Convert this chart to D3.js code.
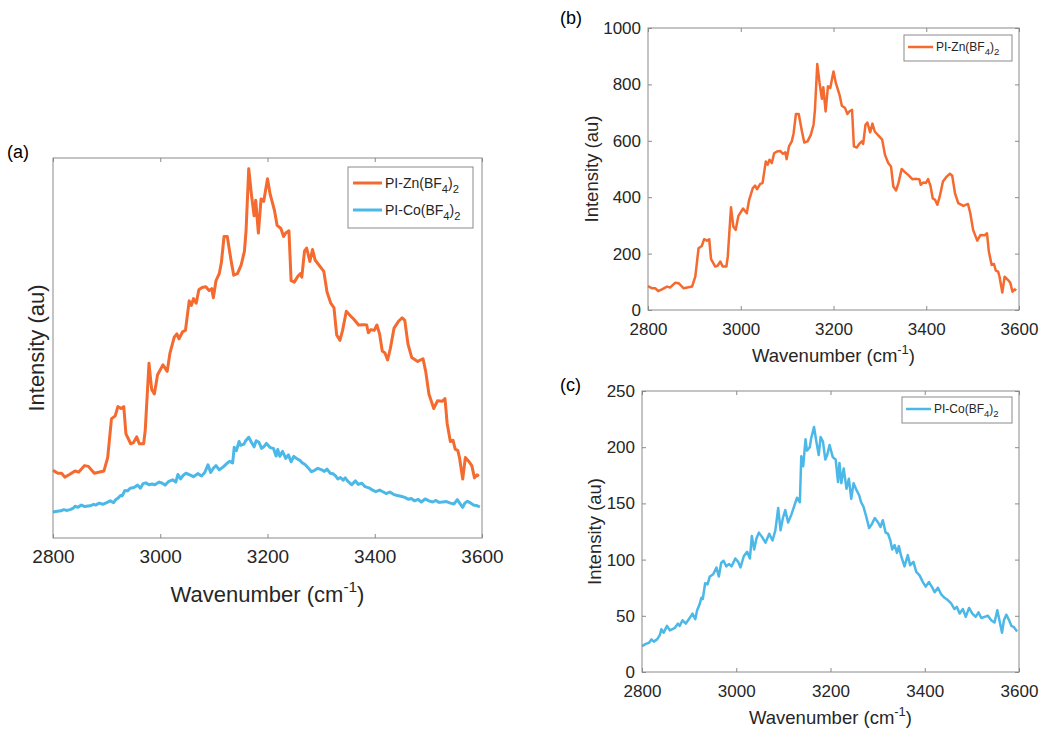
<!DOCTYPE html>
<html>
<head>
<meta charset="utf-8">
<script src="https://cdn.jsdelivr.net/npm/d3@7/dist/d3.min.js"></script>
<style>
  html, body { margin: 0; padding: 0; background: #fff; }
  svg { display: block; }
  text { font-family: "Liberation Sans", Arial, Helvetica, sans-serif; }
</style>
</head>
<body>
<svg id="chart" width="1040" height="729"></svg>
<script>
// ---------------- DATA ----------------
const xTicks = [2800, 3000, 3200, 3400, 3600];
const yTicksB = [0, 200, 400, 600, 800, 1000];
const yTicksC = [0, 50, 100, 150, 200, 250];

const znWavenumber = [2800,2809,2816,2822,2830,2841,2848,2859,2866,2877,2895,2902,2909,2916,2921,2927,2932,2936,2945,2950,2956,2961,2969,2972,2979,2984,2989,2995,3005,3013,3018,3026,3031,3035,3042,3047,3054,3058,3062,3067,3072,3078,3085,3091,3096,3099,3104,3110,3114,3119,3125,3132,3137,3144,3151,3157,3160,3165,3170,3175,3178,3183,3188,3193,3200,3205,3213,3218,3225,3230,3234,3240,3244,3250,3257,3261,3264,3269,3273,3279,3284,3289,3300,3305,3311,3318,3324,3329,3335,3340,3347,3354,3361,3370,3379,3385,3388,3393,3399,3404,3409,3414,3419,3424,3429,3436,3444,3451,3456,3462,3469,3480,3490,3495,3501,3510,3517,3526,3531,3535,3541,3546,3550,3555,3558,3564,3569,3576,3581,3586,3591,3594];
const znIntensity = [85,77,77,67,73,83,80,97,95,77,83,118,219,227,251,246,251,180,154,157,172,154,154,189,364,296,284,334,360,343,390,432,441,428,447,450,527,515,533,521,556,562,564,554,559,535,580,598,627,695,695,633,594,598,621,657,710,872,805,749,790,704,793,787,846,805,763,724,716,695,704,710,580,576,592,598,589,657,665,630,661,633,613,604,550,521,509,438,424,450,500,489,479,464,465,464,444,452,450,464,441,396,391,373,402,456,473,483,476,414,379,369,376,343,284,246,266,265,272,207,160,163,140,136,118,62,118,107,97,65,73,69];

const coWavenumber = [2800,2808,2815,2820,2825,2832,2838,2841,2846,2853,2859,2869,2876,2880,2886,2893,2901,2907,2913,2917,2922,2926,2929,2934,2939,2944,2951,2958,2963,2968,2973,2979,2985,2990,2998,3004,3009,3016,3023,3029,3033,3038,3043,3048,3055,3062,3070,3077,3083,3089,3094,3099,3104,3110,3117,3124,3129,3135,3138,3142,3147,3150,3156,3159,3165,3170,3175,3179,3184,3189,3193,3198,3205,3211,3216,3219,3223,3228,3234,3239,3244,3249,3255,3261,3265,3270,3276,3282,3287,3294,3301,3306,3311,3317,3322,3327,3331,3336,3341,3345,3350,3357,3364,3369,3376,3382,3389,3396,3402,3409,3416,3421,3428,3435,3442,3449,3456,3463,3468,3474,3481,3487,3494,3501,3508,3514,3520,3527,3534,3541,3548,3554,3559,3564,3568,3573,3579,3584,3589,3596];
const coIntensity = [23,25,26,29,27,29,33,38,35,41,37,39,43,41,46,43,48,52,47,55,60,66,65,79,78,85,87,93,85,97,99,94,96,94,101,98,93,103,107,101,121,109,119,124,120,115,123,117,126,146,126,137,144,133,140,149,155,151,192,183,207,197,200,208,218,205,193,209,205,189,193,202,191,189,169,186,168,181,163,172,154,168,162,157,151,147,138,128,131,137,133,129,135,124,123,117,109,113,106,112,103,94,104,95,98,89,86,80,76,80,75,71,75,69,66,64,61,56,58,52,56,49,57,52,49,53,48,49,50,46,44,55,45,35,46,51,46,41,40,36];

const seriesNames = ["PI-Zn(BF", "PI-Co(BF"];
const panelLabels = ["(a)", "(b)", "(c)"];
const xLabel = "Wavenumber (cm";
const yLabel = "Intensity (au)";

// y domains for the overview panel (a) (no y ticks; curves stacked)
const aZnDomain = [-92, 900];
const aCoDomain = [-45, 947];
const bDomain = [0, 1000];
const cDomain = [0, 250];

// ---------------- STYLE ----------------
const ORANGE = "#F46A2F";
const BLUE = "#4BB8E8";
const BOX = "#8a8a8a";
const TXT = "#262626";

const svg = d3.select("#chart");

const zn = znWavenumber.map((w, i) => ({ w, v: znIntensity[i] }));
const co = coWavenumber.map((w, i) => ({ w, v: coIntensity[i] }));

function formulaText(g, x, y, base, size, anchor) {
  const t = g.append("text").attr("x", x).attr("y", y)
    .attr("font-size", size).attr("fill", TXT).attr("text-anchor", anchor || "start");
  t.append("tspan").text(base);
  t.append("tspan").attr("dy", size * 0.35).attr("font-size", size * 0.8).text("4");
  t.append("tspan").attr("dy", -size * 0.35).text(")");
  t.append("tspan").attr("dy", size * 0.35).attr("font-size", size * 0.8).text("2");
  return t;
}

function wavenumberLabel(g, x, y, size) {
  const t = g.append("text").attr("x", x).attr("y", y).attr("text-anchor", "middle")
    .attr("font-size", size).attr("fill", TXT);
  t.append("tspan").text(xLabel);
  t.append("tspan").attr("dy", -size * 0.45).attr("font-size", size * 0.7).text("-1");
  t.append("tspan").attr("dy", size * 0.45).text(")");
}

function panel(opts) {
  const { left, right, top, bottom } = opts;
  const g = svg.append("g");
  const x = d3.scaleLinear().domain([2800, 3600]).range([left, right]);

  const xb = g.append("g").attr("transform", `translate(0,${bottom})`)
    .call(d3.axisBottom(x).tickValues(xTicks).tickSizeInner(-opts.tick).tickSizeOuter(0).tickPadding(opts.xPad).tickFormat(d3.format("d")));
  xb.select(".domain").remove();
  xb.selectAll("line").attr("stroke", BOX);
  xb.selectAll("text").attr("font-size", opts.tickFont).attr("fill", TXT)
    .attr("font-family", '"Liberation Sans", Arial, sans-serif');
  const xt = g.append("g").attr("transform", `translate(0,${top})`)
    .call(d3.axisTop(x).tickValues(xTicks).tickSizeInner(-opts.tick).tickSizeOuter(0).tickFormat(""));
  xt.select(".domain").remove();
  xt.selectAll("line").attr("stroke", BOX);

  if (opts.yScale) {
    const y = opts.yScale;
    const yl = g.append("g").attr("transform", `translate(${left},0)`)
      .call(d3.axisLeft(y).tickValues(opts.yTicks).tickSizeInner(-opts.tick).tickSizeOuter(0).tickPadding(opts.yPad).tickFormat(d3.format("d")));
    yl.select(".domain").remove();
    yl.selectAll("line").attr("stroke", BOX);
    yl.selectAll("text").attr("font-size", opts.tickFont).attr("fill", TXT)
      .attr("font-family", '"Liberation Sans", Arial, sans-serif');
    const yr = g.append("g").attr("transform", `translate(${right},0)`)
      .call(d3.axisRight(y).tickValues(opts.yTicks).tickSizeInner(-opts.tick).tickSizeOuter(0).tickFormat(""));
    yr.select(".domain").remove();
    yr.selectAll("line").attr("stroke", BOX);
  }

  opts.series.forEach(s => {
    const line = d3.line().x(d => x(d.w)).y(d => s.y(d.v));
    g.append("path").datum(s.data).attr("d", line)
      .attr("fill", "none").attr("stroke", s.color).attr("stroke-width", opts.lw)
      .attr("stroke-linejoin", "round");
  });

  g.append("rect").attr("x", left).attr("y", top).attr("width", right - left).attr("height", bottom - top)
    .attr("fill", "none").attr("stroke", BOX).attr("stroke-width", 1);

  const L = opts.legend;
  g.append("rect").attr("x", L.x0).attr("y", L.y0).attr("width", L.x1 - L.x0).attr("height", L.y1 - L.y0)
    .attr("fill", "#fff").attr("stroke", BOX).attr("stroke-width", 1);
  L.items.forEach((it, i) => {
    const cy = L.rowY[i];
    g.append("line").attr("x1", L.lx0).attr("x2", L.lx1).attr("y1", cy).attr("y2", cy)
      .attr("stroke", it.color).attr("stroke-width", opts.lw);
    formulaText(g, L.tx, cy + L.font * 0.33, it.name, L.font);
  });

  wavenumberLabel(g, (left + right) / 2, opts.xLabelY, opts.labelFont);
  g.append("text").attr("transform", `translate(${opts.yLabelX},${(top + bottom) / 2}) rotate(-90)`)
    .attr("text-anchor", "middle").attr("font-size", opts.labelFont).attr("fill", TXT).text(yLabel);

  svg.append("text").attr("x", opts.tagX).attr("y", opts.tagY)
    .attr("font-family", "Carlito, Calibri, 'Open Sans', sans-serif")
    .attr("font-size", 18).attr("fill", "#000").text(opts.tag);
}

// ---------------- PANEL (a) ----------------
const aTop = 158, aBottom = 538;
panel({
  left: 53, right: 482, top: aTop, bottom: aBottom, tick: 4,
  tickFont: 19, labelFont: 22, xPad: 12, lw: 3,
  xLabelY: 602, yLabelX: 44,
  series: [
    { data: zn, color: ORANGE, y: d3.scaleLinear().domain(aZnDomain).range([aBottom, aTop]) },
    { data: co, color: BLUE, y: d3.scaleLinear().domain(aCoDomain).range([aBottom, aTop]) }
  ],
  legend: { x0: 348, x1: 473, y0: 167, y1: 228, lx0: 353, lx1: 382, tx: 385, rowY: [183, 210], font: 14,
    items: [{ name: seriesNames[0], color: ORANGE }, { name: seriesNames[1], color: BLUE }] },
  tag: panelLabels[0], tagX: 7, tagY: 158
});

// ---------------- PANEL (b) ----------------
const bTop = 28, bBottom = 310;
panel({
  left: 648, right: 1019, top: bTop, bottom: bBottom, tick: 4,
  tickFont: 17, labelFont: 18.5, xPad: 13, yPad: 7, lw: 2.5,
  yScale: d3.scaleLinear().domain(bDomain).range([bBottom, bTop]), yTicks: yTicksB,
  xLabelY: 362, yLabelX: 598,
  series: [
    { data: zn, color: ORANGE, y: d3.scaleLinear().domain(bDomain).range([bBottom, bTop]) }
  ],
  legend: { x0: 904, x1: 1012, y0: 35, y1: 61, lx0: 908, lx1: 933, tx: 936, rowY: [47], font: 12,
    items: [{ name: seriesNames[0], color: ORANGE }] },
  tag: panelLabels[1], tagX: 560, tagY: 24
});

// ---------------- PANEL (c) ----------------
const cTop = 391, cBottom = 672;
panel({
  left: 642, right: 1019, top: cTop, bottom: cBottom, tick: 4,
  tickFont: 17, labelFont: 18.5, xPad: 13, yPad: 7, lw: 2.5,
  yScale: d3.scaleLinear().domain(cDomain).range([cBottom, cTop]), yTicks: yTicksC,
  xLabelY: 724, yLabelX: 601,
  series: [
    { data: co, color: BLUE, y: d3.scaleLinear().domain(cDomain).range([cBottom, cTop]) }
  ],
  legend: { x0: 902, x1: 1012, y0: 397, y1: 423, lx0: 906, lx1: 931, tx: 934, rowY: [409], font: 12,
    items: [{ name: seriesNames[1], color: BLUE }] },
  tag: panelLabels[2], tagX: 560, tagY: 391
});
</script>
</body>
</html>
